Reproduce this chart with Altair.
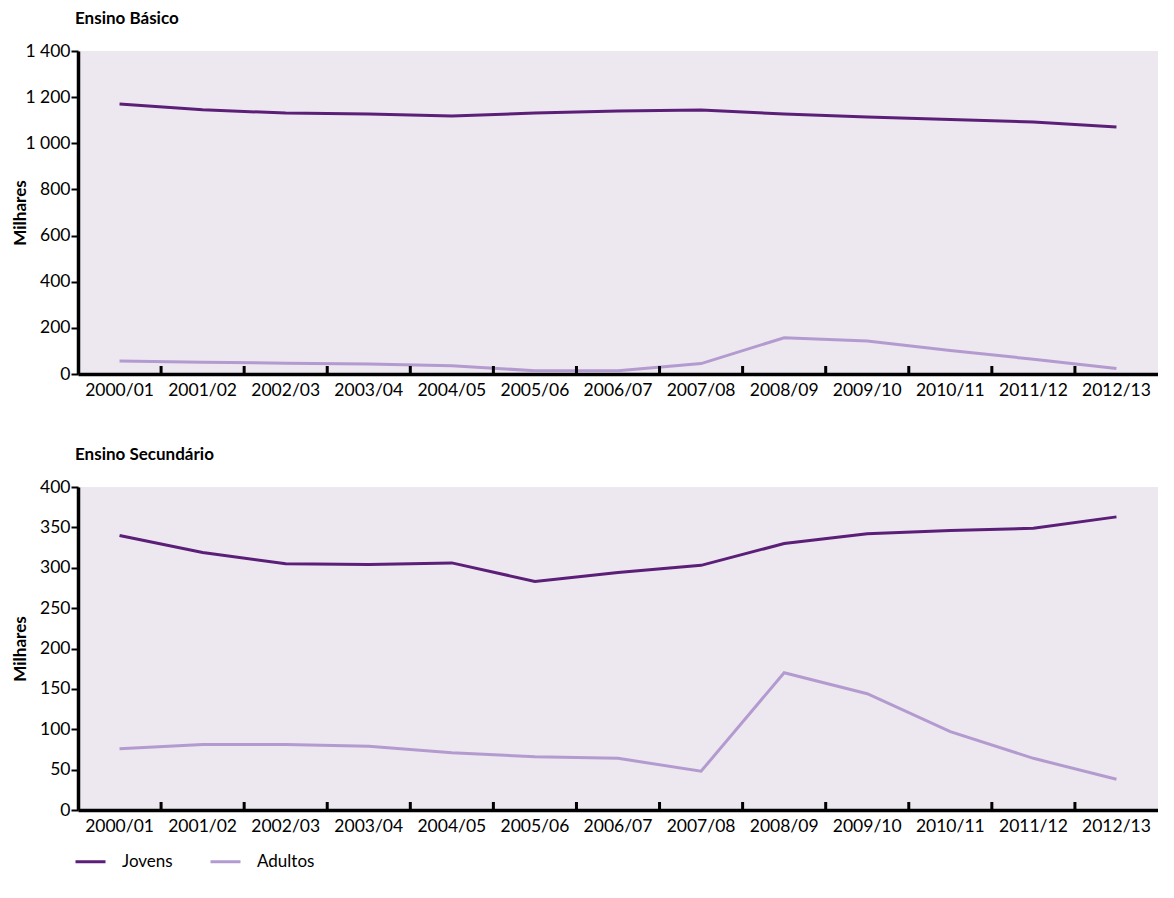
import altair as alt
import pandas as pd

years = ["2000/01", "2001/02", "2002/03", "2003/04", "2004/05", "2005/06", "2006/07",
         "2007/08", "2008/09", "2009/10", "2010/11", "2011/12", "2012/13"]

basico_jovens = [1170, 1145, 1131, 1127, 1118, 1131, 1140, 1144, 1127, 1114, 1103, 1092, 1071]
basico_adultos = [56, 51, 47, 43, 36, 14, 14, 45, 157, 143, 102, 64, 24]

sec_jovens = [340, 319, 305, 304, 306, 283, 294, 303, 330, 342, 346, 349, 363]
sec_adultos = [76, 81, 81, 79, 71, 66, 64, 48, 170, 144, 97, 64, 38]

series_names = ["Jovens", "Adultos"]
colors = ["#5b1f78", "#b39bd0"]

FONT = "Lato"
W = 1080
H = 323


def make_df(jov, adu):
    rows = []
    for y, j, a in zip(years, jov, adu):
        rows.append({"year": y, "serie": "Jovens", "value": j})
        rows.append({"year": y, "serie": "Adultos", "value": a})
    return pd.DataFrame(rows)


def panel(title, jov, adu, ymax, step, show_legend):
    df = make_df(jov, adu)
    xscale = alt.Scale(type="band", domain=years, paddingInner=0, paddingOuter=0)
    yvals = list(range(0, ymax + 1, step))
    lines = alt.Chart(df).mark_line(strokeWidth=3).encode(
        x=alt.X("year:N", sort=years, scale=xscale, bandPosition=0.5,
                axis=alt.Axis(title=None, ticks=False, labelFontSize=17.5, labelFont=FONT,
                              labelColor="black", labelPadding=7, labelAngle=0,
                              domainColor="black", domainWidth=3.5)),
        y=alt.Y("value:Q", scale=alt.Scale(domain=[0, ymax], nice=False),
                axis=alt.Axis(title="Milhares", values=yvals, grid=False,
                              labelExpr="replace(format(datum.value, ','), ',', ' ')",
                              labelFontSize=17.5, labelFont=FONT, labelColor="black",
                              titleFont=FONT, titleFontSize=17, titleFontWeight="bold",
                              titleColor="black", titleX=-49, titleY=H / 2,
                              titleAlign="center", titleAngle=270,
                              tickColor="black", tickWidth=2, tickSize=7, labelPadding=1,
                              domainColor="black", domainWidth=3.5)),
        color=alt.Color("serie:N", sort=series_names,
                        scale=alt.Scale(domain=series_names, range=colors),
                        legend=alt.Legend(title=None, orient="none", direction="horizontal",
                                          legendX=-4, legendY=H * 2 + 148,
                                          symbolType="stroke", symbolSize=900,
                                          symbolStrokeWidth=3, labelFont=FONT,
                                          labelFontSize=17, labelColor="black",
                                          columnPadding=31, labelOffset=15) if show_legend else None),
    )
    tick_df = pd.DataFrame({"year": years[1:]})
    ticks = alt.Chart(tick_df).mark_rule(color="black", strokeWidth=3).encode(
        x=alt.X("year:N", sort=years, scale=xscale, bandPosition=0),
        y=alt.value(H - 8),
        y2=alt.value(H),
    )
    return alt.layer(lines, ticks).properties(
        width=W, height=H,
        title=alt.TitleParams(title, anchor="start", frame="group", font=FONT, fontSize=17,
                              fontWeight="bold", color="black", offset=14, dx=-3),
    )


top = panel("Ensino Básico", basico_jovens, basico_adultos, 1400, 200, True)
bottom = panel("Ensino Secundário", sec_jovens, sec_adultos, 400, 50, False)

chart = alt.vconcat(top, bottom, spacing=47).properties(
    padding={"left": 3, "top": 2, "right": 0, "bottom": 0}
).configure_view(fill="#ede7f0", stroke=None)

chart.save("out.html", embed_options={"renderer": "svg", "actions": False})
